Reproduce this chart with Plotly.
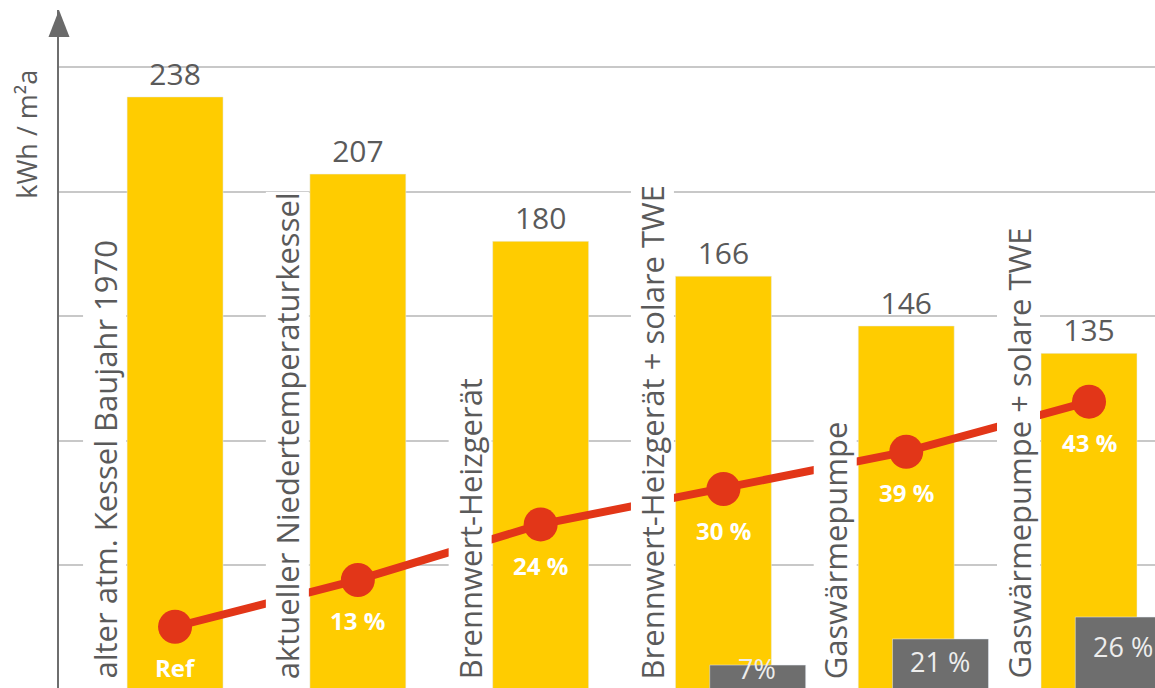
import plotly.graph_objects as go

# ---- data ----
categories = [
    "alter atm. Kessel Baujahr 1970",
    "aktueller Niedertemperaturkessel",
    "Brennwert-Heizgerät",
    "Brennwert-Heizgerät + solare TWE",
    "Gaswärmepumpe",
    "Gaswärmepumpe + solare TWE",
]
demand_kwh = [238, 207, 180, 166, 146, 135]
saving_labels = ["Ref", "13 %", "24 %", "30 %", "39 %", "43 %"]
saving_line_level = [25.2, 44.0, 66.3, 80.5, 95.5, 115.6]
share_bar_height = [None, None, None, 9.8, 20.3, 29.1]
share_labels = ["", "", "", "7%", "21 %", "26 %"]
y_axis_title = "kWh / m²a"
grid_values = [50, 100, 150, 200, 250]

FONT = "Open Sans"
YELLOW = "#FFCC00"
RED = "#E23618"
GREY_BAR = "#6E6E6E"
TEXT = "#5A5A5A"

idx = list(range(len(categories)))

fig = go.Figure()

fig.add_trace(go.Bar(
    x=idx, y=demand_kwh, marker_color=YELLOW, width=0.525, offset=-0.2625,
    text=[str(v) for v in demand_kwh], textposition="outside",
    textfont=dict(family=FONT, size=30, color=TEXT), cliponaxis=False,
    constraintext="none", hoverinfo="skip",
))

gx = [i for i, h in zip(idx, share_bar_height) if h is not None]
gy = [h for h in share_bar_height if h is not None]
fig.add_trace(go.Bar(
    x=gx, y=gy, marker_color=GREY_BAR, width=0.525, offset=-0.075,
    hoverinfo="skip",
))

fig.add_trace(go.Scatter(
    x=idx, y=saving_line_level, mode="lines+markers",
    line=dict(color=RED, width=8), marker=dict(color=RED, size=34),
    hoverinfo="skip", cliponaxis=False,
))

annotations = []
# category labels (vertical, white box)
for i, c in enumerate(categories):
    annotations.append(dict(
        x=i, xref="x", y=0, yref="paper", text=c, textangle=-90,
        xanchor="center", yanchor="bottom", xshift=-71, yshift=8,
        showarrow=False, bgcolor="white", borderpad=0,
        font=dict(family=FONT, size=31, color=TEXT),
    ))
# saving labels under the markers
for i, (lab, lv) in enumerate(zip(saving_labels, saving_line_level)):
    annotations.append(dict(
        x=i, y=lv, text=f"<b>{lab}</b>", showarrow=False,
        xanchor="center", yanchor="middle", yshift=-41,
        font=dict(family=FONT, size=24, color="white"),
    ))
# share labels on grey bars
share_yshift = [0, 0, 0, 17, -2, -9]
for i, (lab, h) in enumerate(zip(share_labels, share_bar_height)):
    if h is None:
        continue
    annotations.append(dict(
        x=i, y=h, text=lab, showarrow=False, xanchor="center",
        xshift=34, yanchor="top", yshift=share_yshift[i],
        font=dict(family=FONT, size=27, color="#EDEDED"),
    ))
# y axis title
annotations.append(dict(
    x=0, xref="paper", y=0.816, yref="paper", text=y_axis_title,
    textangle=-90, showarrow=False, xanchor="center", yanchor="middle",
    xshift=-32, font=dict(family=FONT, size=27, color=TEXT),
))

shapes = [
    dict(type="path", xref="paper", yref="paper", xsizemode="pixel",
         ysizemode="pixel", xanchor=0, yanchor=1,
         path="M0,0 L-10.5,-27 L10.5,-27 Z",
         fillcolor="#6A6A6A", line=dict(width=0)),
]

fig.update_layout(
    width=1155, height=688,
    margin=dict(l=59, r=0, t=10, b=0),
    paper_bgcolor="white", plot_bgcolor="white",
    barmode="overlay", showlegend=False,
    xaxis=dict(range=[-0.635, 5.361], showticklabels=False, showgrid=False,
               zeroline=False, showline=False, fixedrange=True),
    yaxis=dict(range=[0.6, 272.9], tickmode="array", tickvals=grid_values,
               showticklabels=False, showgrid=True, gridcolor="#C8C8C8",
               gridwidth=2, zeroline=False, showline=True,
               linecolor="#6E6E6E", linewidth=2, ticks=""),
    annotations=annotations, shapes=shapes,
)

fig.write_html(
    "out.html",
    config={"displayModeBar": False},
    post_script="document.body.style.margin='0';document.body.style.overflow='hidden';",
)
